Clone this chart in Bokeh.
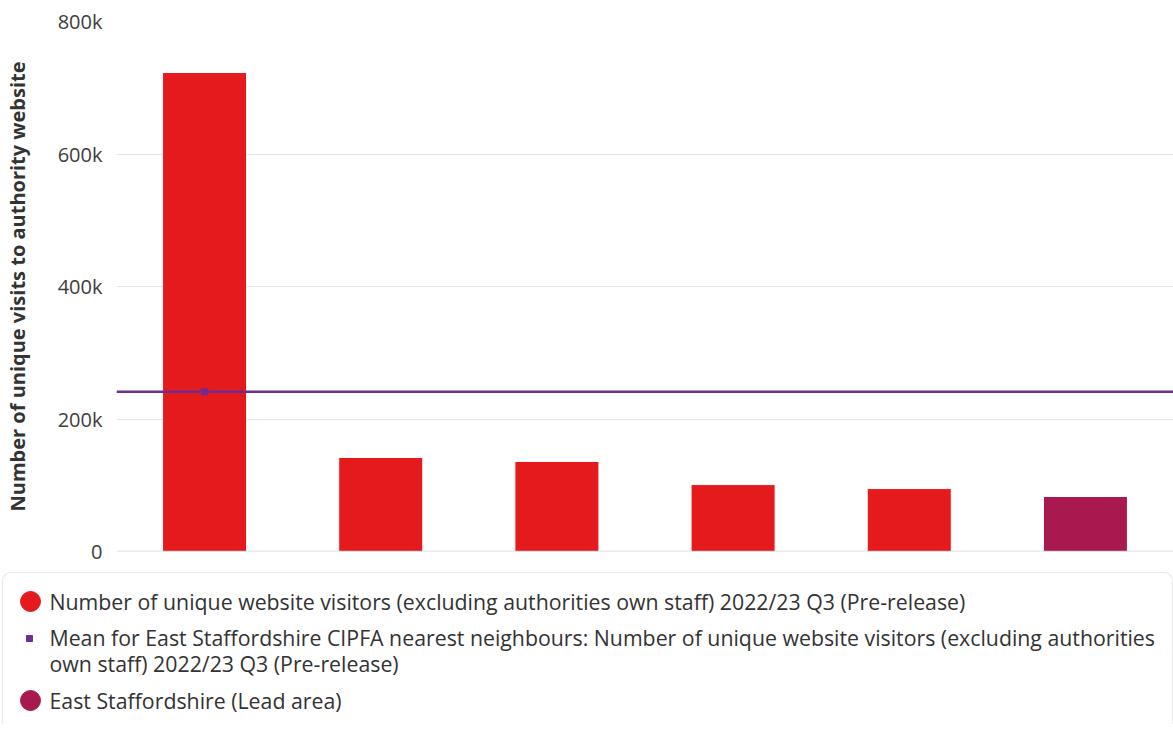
from bokeh.plotting import figure
from bokeh.models import (FactorRange, Range1d, FixedTicker, Span, BoxAnnotation,
                          ColumnDataSource)
from bokeh.layouts import column
from bokeh.core.properties import value
from bokeh.embed import file_html
from bokeh.resources import INLINE

# ---- data ----
areas = ["Neighbour A", "Neighbour B", "Neighbour C", "Neighbour D", "Neighbour E",
         "East Staffordshire"]
visitors = [723000, 142000, 136000, 101000, 95000, 83000]
is_lead = [False, False, False, False, False, True]
mean_value = 241000
y_ticks = [0, 200000, 400000, 600000, 800000]
y_tick_labels = ["0", "200k", "400k", "600k", "800k"]
legend_labels = [
    "Number of unique website visitors (excluding authorities own staff) 2022/23 Q3 (Pre-release)",
    "Mean for East Staffordshire CIPFA nearest neighbours: Number of unique website visitors (excluding authorities\nown staff) 2022/23 Q3 (Pre-release)",
    "East Staffordshire (Lead area)",
]

RED = "#e41a1c"
LEAD = "#a8194f"
PURPLE = "#6f2c91"
FONT = "Open Sans"

W = 1173
H_MAIN = 564
H_LEG = 160

colors = [LEAD if l else RED for l in is_lead]
src = ColumnDataSource(dict(area=areas, v=visitors, color=colors))

p = figure(x_range=FactorRange(*areas, range_padding=0), y_range=Range1d(0, 800000),
           width=W, height=H_MAIN, output_backend="svg", toolbar_location=None,
           min_border_left=116, min_border_right=0, min_border_top=21,
           min_border_bottom=13)
p.frame_align = False
p.outline_line_color = None
p.vbar(x="area", top="v", width=0.477, color="color", line_color="white",
       line_width=1, source=src)

p.add_layout(Span(location=mean_value, dimension="width", line_color=PURPLE,
                  line_width=2.5))
p.scatter(x=[areas[0]], y=[mean_value], marker="square", size=6,
          color=PURPLE)

p.xaxis.visible = False
p.xgrid.grid_line_color = None
p.ygrid.grid_line_color = "#e6e6e6"
p.ygrid.grid_line_width = 1
p.yaxis.ticker = FixedTicker(ticks=y_ticks)
p.yaxis.major_label_overrides = {t: l for t, l in zip(y_ticks, y_tick_labels)}
p.yaxis.axis_line_color = None
p.yaxis.major_tick_line_color = None
p.yaxis.minor_tick_line_color = None
p.yaxis.major_label_text_font = FONT
p.yaxis.major_label_text_font_size = "20px"
p.yaxis.major_label_text_color = "#3d3d3d"
p.yaxis.major_label_standoff = 8
p.yaxis.axis_label = "Number of unique visits to authority website"
p.yaxis.axis_label_text_font = FONT
p.yaxis.axis_label_text_font_size = "20px"
p.yaxis.axis_label_text_font_style = "bold"
p.yaxis.axis_label_text_color = "#333333"
p.yaxis.axis_label_standoff = 24

p.add_layout(Span(location=0, dimension="width", line_color="#ccd6eb", line_width=1.5))

# ---- legend panel ----
lg = figure(x_range=Range1d(0, W), y_range=Range1d(H_LEG, 0), width=W, height=H_LEG,
            output_backend="svg", toolbar_location=None, min_border=0)
lg.frame_align = False
lg.axis.visible = False
lg.grid.visible = False
lg.outline_line_color = None
lg.add_layout(BoxAnnotation(left=2, right=W - 1, top=8, bottom=H_LEG + 20,
                            fill_alpha=0, line_color="#bbbbbb", line_width=1.2,
                            border_radius=8))
lg.scatter(x=[30, 30], y=[37, 136], marker="circle", size=20,
           color=[RED, LEAD])
lg.scatter(x=[29], y=[74], marker="square", size=6, color=PURPLE)
lg.text(x=[49, 49, 49], y=[37, 86, 136], text=legend_labels,
        text_font=value(FONT), text_font_size="21.3px", text_color="#333333",
        text_baseline="middle", text_line_height=0.9)

layout = column(p, lg, spacing=0)
open("out.html", "w").write(file_html(layout, INLINE))
